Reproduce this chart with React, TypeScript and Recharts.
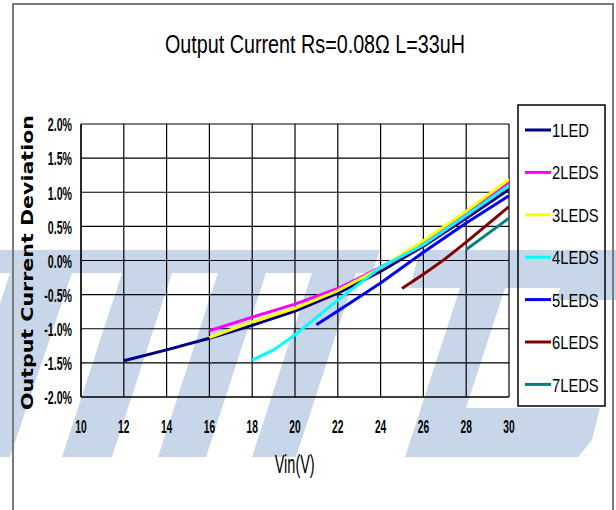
import React from 'react';
import { LineChart, Line, XAxis, YAxis, CartesianGrid } from 'recharts';

// ---- data ----
const seriesNames = ['1LED', '2LEDS', '3LEDS', '4LEDS', '5LEDS', '6LEDS', '7LEDS'];

const vin1 = [12, 14, 16, 18, 20, 22, 24, 26, 28, 30];
const dev1 = [-1.47, -1.31, -1.14, -0.95, -0.74, -0.48, -0.16, 0.21, 0.62, 1.04];

const vin2 = [16, 18, 20, 22, 24, 26, 28, 30];
const dev2 = [-1.03, -0.83, -0.64, -0.41, -0.1, 0.26, 0.69, 1.14];

const vin3 = [16, 18, 20, 22, 24, 26, 28, 30];
const dev3 = [-1.13, -0.9, -0.7, -0.44, -0.11, 0.29, 0.72, 1.19];

const vin4 = [18, 19, 20, 22, 24, 26, 28, 30];
const dev4 = [-1.46, -1.31, -1.09, -0.58, -0.1, 0.23, 0.66, 1.1];

const vin5 = [21, 22, 24, 26, 28, 30];
const dev5 = [-0.94, -0.74, -0.33, 0.12, 0.55, 0.95];

const vin6 = [25, 26, 27, 28, 29, 30];
const dev6 = [-0.41, -0.2, 0.02, 0.27, 0.53, 0.79];

const vin7 = [28, 29, 30];
const dev7 = [0.16, 0.39, 0.62];

const xTicks = [10, 12, 14, 16, 18, 20, 22, 24, 26, 28, 30];
const yTicks = [-2, -1.5, -1, -0.5, 0, 0.5, 1, 1.5, 2];

const title = 'Output Current Rs=0.08\u03A9 L=33uH';
const xTitle = 'Vin(V)';
const yTitle = 'Output Current Deviation';

// ---- styles ----
const colors = ['#000080', '#FF00FF', '#FFFF00', '#00FFFF', '#0000FF', '#800000', '#008080'];
const SANS = "'Liberation Sans', Arial, sans-serif";
const WM = '#c7d7e9';

const pairs = (xs: number[], ys: number[]) => xs.map((x, i) => ({ x, y: ys[i] }));
const seriesData = [
  pairs(vin1, dev1),
  pairs(vin2, dev2),
  pairs(vin3, dev3),
  pairs(vin4, dev4),
  pairs(vin5, dev5),
  pairs(vin6, dev6),
  pairs(vin7, dev7),
];

const fmtPct = (v: number) => `${v.toFixed(1)}%`;

const XTick = (props: any) => {
  const { x, y, payload } = props;
  return (
    <text
      transform={`translate(${x},${y + 28}) scale(0.55,1)`}
      textAnchor="middle"
      fontFamily={SANS}
      fontWeight="bold"
      fontSize={18.6}
      fill="#000"
    >
      {payload.value}
    </text>
  );
};

const YTick = (props: any) => {
  const { x, y, payload } = props;
  return (
    <text
      transform={`translate(${x - 1},${y + 7.3}) scale(0.6,1)`}
      textAnchor="end"
      fontFamily={SANS}
      fontWeight="bold"
      fontSize={17.7}
      fill="#000"
    >
      {fmtPct(payload.value)}
    </text>
  );
};

const Watermark = () => (
  <svg width={616} height={510} style={{ position: 'absolute', left: 0, top: 0 }}>
    <g fill={WM}>
      <polygon points="0,250 380,250 372,273 0,273" />
      <polygon points="10,273 72,273 10,457 -50,457" />
      <polygon points="122,273 172,273 112,457 62,457" />
      <polygon points="218,273 266,273 206,457 158,457" />
      <polygon points="312,273 356,273 296,457 252,457" />
      <polygon points="420,250 616,250 616,288 410,288" />
      <polygon points="460,288 505,288 450,457 405,457" />
      <polygon points="430,408 600,408 592,440 578,457 445,457 430,440" />
      <polygon points="560,288 616,288 616,300 556,300" />
    </g>
  </svg>
);

const Overlay = () => (
  <svg width={616} height={510} style={{ position: 'absolute', left: 0, top: 0, pointerEvents: 'none' }}>
    <text
      transform="translate(315,53.3) scale(0.79,1)"
      textAnchor="middle"
      fontFamily={SANS}
      fontSize={25}
      fill="#000"
    >
      {title}
    </text>
    <text
      transform="translate(294.7,473) scale(0.58,1)"
      textAnchor="middle"
      fontFamily={SANS}
      fontSize={25}
      fill="#000"
    >
      {xTitle}
    </text>
    <text
      transform="translate(33,262.5) rotate(-90)"
      textAnchor="middle"
      fontFamily="'DejaVu Sans', Verdana, sans-serif"
      fontWeight="bold"
      fontSize={15.5}
      textLength={295}
      lengthAdjust="spacingAndGlyphs"
      fill="#000"
    >
      {yTitle}
    </text>
    <rect x={518} y={105} width={87} height={301} fill="none" stroke="#000" strokeWidth={1.5} />
    {seriesNames.map((name, i) => (
      <g key={name}>
        <line x1={525} x2={551} y1={130 + i * 42.4} y2={130 + i * 42.4} stroke={colors[i]} strokeWidth={3} />
        <text
          transform={`translate(552,${136.7 + i * 42.5}) scale(0.82,1)`}
          fontFamily={SANS}
          fontSize={18}
          fill="#000"
        >
          {name}
        </text>
      </g>
    ))}
  </svg>
);

export default function App() {
  return (
    <div style={{ position: 'absolute', left: 0, top: 0, width: 616, height: 510, background: '#fff', overflow: 'hidden' }}>
      <Watermark />
      <div style={{ position: 'absolute', left: 0, top: 0 }}>
        <LineChart width={616} height={510} margin={{ top: 124, right: 107, bottom: 83, left: 0 }}>
          <CartesianGrid stroke="#000" strokeWidth={1.2} />
          <XAxis
            type="number"
            dataKey="x"
            domain={[10, 30]}
            ticks={xTicks}
            height={30}
            axisLine={{ stroke: '#000', strokeWidth: 1.2 }}
            tickLine={false}
            tick={<XTick />}
            interval={0}
            allowDataOverflow
          />
          <YAxis
            type="number"
            domain={[-2, 2]}
            ticks={yTicks}
            width={81}
            axisLine={{ stroke: '#000', strokeWidth: 1.2 }}
            tickLine={false}
            tick={<YTick />}
            interval={0}
            allowDataOverflow
          />
          {seriesData.map((d, i) => (
            <Line
              key={seriesNames[i]}
              data={d}
              dataKey="y"
              name={seriesNames[i]}
              type="linear"
              stroke={colors[i]}
              strokeWidth={3}
              dot={false}
              activeDot={false}
              isAnimationActive={false}
            />
          ))}
        </LineChart>
      </div>
      <Overlay />
      <div
        style={{
          position: 'absolute',
          left: 12,
          top: 3,
          width: 598,
          height: 600,
          border: '2px solid #7a7a7a',
        }}
      />
    </div>
  );
}
